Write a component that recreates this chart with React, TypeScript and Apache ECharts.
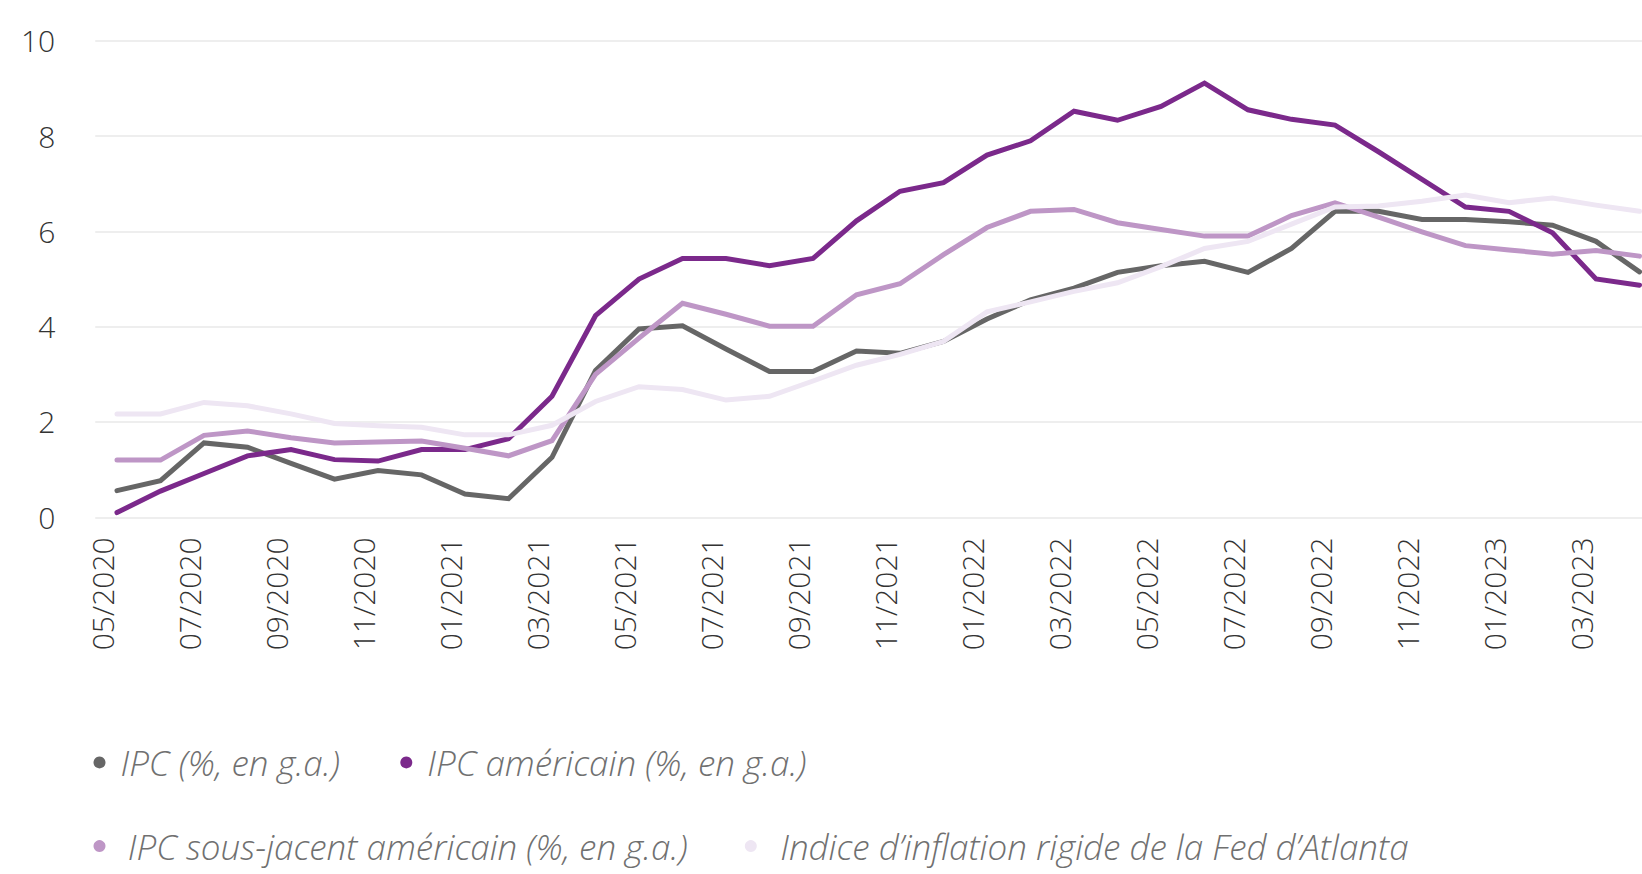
import React, { useEffect, useRef } from 'react';
import * as echarts from 'echarts';

// Monthly categories (x axis)
const months = [
  '05/2020', '06/2020', '07/2020', '08/2020', '09/2020', '10/2020', '11/2020', '12/2020',
  '01/2021', '02/2021', '03/2021', '04/2021', '05/2021', '06/2021', '07/2021', '08/2021',
  '09/2021', '10/2021', '11/2021', '12/2021', '01/2022', '02/2022', '03/2022', '04/2022',
  '05/2022', '06/2022', '07/2022', '08/2022', '09/2022', '10/2022', '11/2022', '12/2022',
  '01/2023', '02/2023', '03/2023', '04/2023',
];

const seriesNames = [
  'IPC (%, en g.a.)',
  'IPC américain (%, en g.a.)',
  'IPC sous-jacent américain (%, en g.a.)',
  'Indice d’inflation rigide de la Fed d’Atlanta',
];

const ipc = [
  0.56, 0.77, 1.56, 1.47, 1.13, 0.8, 0.98, 0.89, 0.49, 0.39, 1.26, 3.08,
  3.95, 4.02, 3.53, 3.06, 3.06, 3.49, 3.44, 3.69, 4.16, 4.56, 4.81, 5.14,
  5.28, 5.37, 5.14, 5.64, 6.42, 6.42, 6.25, 6.25, 6.2, 6.13, 5.79, 5.15,
];

const ipcUS = [
  0.1, 0.55, 0.92, 1.29, 1.42, 1.21, 1.18, 1.42, 1.42, 1.65, 2.54, 4.23,
  5.0, 5.43, 5.43, 5.28, 5.43, 6.22, 6.84, 7.02, 7.6, 7.9, 8.52, 8.33,
  8.62, 9.11, 8.55, 8.35, 8.23, 7.67, 7.09, 6.51, 6.42, 5.97, 5.0, 4.87,
];

const coreUS = [
  1.2, 1.2, 1.72, 1.81, 1.67, 1.56, 1.58, 1.6, 1.45, 1.29, 1.61, 3.0,
  3.76, 4.49, 4.26, 4.01, 4.01, 4.67, 4.9, 5.51, 6.08, 6.42, 6.46, 6.18,
  6.04, 5.9, 5.9, 6.33, 6.6, 6.3, 5.99, 5.7, 5.61, 5.52, 5.6, 5.48,
];

const stickyAtlanta = [
  2.17, 2.17, 2.41, 2.34, 2.17, 1.97, 1.92, 1.89, 1.73, 1.73, 1.93, 2.43,
  2.74, 2.68, 2.46, 2.54, 2.86, 3.19, 3.42, 3.69, 4.31, 4.52, 4.74, 4.92,
  5.26, 5.64, 5.79, 6.15, 6.51, 6.53, 6.63, 6.76, 6.6, 6.7, 6.55, 6.42,
];

const seriesValues = [ipc, ipcUS, coreUS, stickyAtlanta];
const colors = ['#666666', '#7B298B', '#BE96C6', '#EEE6F3'];

const yMin = 0;
const yMax = 10;
const yStep = 2;

// The plot area continues past the right edge of the visible picture.
const CHART_W = 1700;
const VIEW_W = 1642;
const VIEW_H = 874;

export default function App() {
  const ref = useRef<HTMLDivElement>(null);

  useEffect(() => {
    document.body.style.margin = '0';
    if (!ref.current) return;
    const chart = echarts.init(ref.current, null, { renderer: 'svg' });

    const gridLeft = 95.25;
    const gridWidth = 1566;

    const legendPos = [
      { left: 93.5, top: 744.9, itemWidth: 32 },
      { left: 400.3, top: 744.9, itemWidth: 32 },
      { left: 93.5, top: 828.6, itemWidth: 46.6 },
      { left: 744.8, top: 828.6, itemWidth: 48.8 },
    ];

    const option: any = {
      animation: false,
      backgroundColor: '#ffffff',
      grid: {
        left: gridLeft,
        right: CHART_W - gridLeft - gridWidth,
        top: 40.7,
        bottom: 356.7,
        containLabel: false,
      },
      xAxis: {
        type: 'category',
        data: months,
        boundaryGap: true,
        axisLine: { show: false },
        axisTick: { show: false },
        splitLine: { show: false },
        axisLabel: {
          interval: 1,
          rotate: 90,
          margin: 20,
          fontSize: 30,
          fontFamily: 'Open Sans',
          fontWeight: 300,
          color: '#333333',
          verticalAlign: 'bottom',
          lineHeight: 29,
        },
      },
      yAxis: {
        type: 'value',
        min: yMin,
        max: yMax,
        interval: yStep,
        axisLine: { show: false },
        axisTick: { show: false },
        axisLabel: {
          margin: 40,
          fontSize: 30,
          fontFamily: 'Open Sans',
          fontWeight: 300,
          color: '#333333',
        },
        splitLine: { lineStyle: { color: '#e8e8e8', width: 1.5 } },
      },
      legend: seriesNames.map((name, i) => ({
        data: [name],
        left: legendPos[i].left,
        top: legendPos[i].top,
        padding: 0,
        itemWidth: legendPos[i].itemWidth,
        itemHeight: 12,
        icon: 'circle',
        selectedMode: false,
        textStyle: {
          fontSize: 35,
          fontFamily: 'Open Sans',
          fontStyle: 'italic',
          fontWeight: 300,
          color: '#707070',
        },
      })),
      series: seriesNames.map((name, i) => ({
        name,
        type: 'line',
        data: seriesValues[i],
        showSymbol: false,
        symbol: 'none',
        color: colors[i],
        lineStyle: { color: colors[i], width: 5, cap: 'round', join: 'miter' },
        emphasis: { disabled: true },
      })),
    };

    chart.setOption(option);
    return () => chart.dispose();
  }, []);

  return (
    <div
      style={{
        position: 'absolute',
        left: 0,
        top: 0,
        width: VIEW_W,
        height: VIEW_H,
        overflow: 'hidden',
        background: '#ffffff',
      }}
    >
      <div ref={ref} style={{ width: CHART_W, height: VIEW_H }} />
    </div>
  );
}
